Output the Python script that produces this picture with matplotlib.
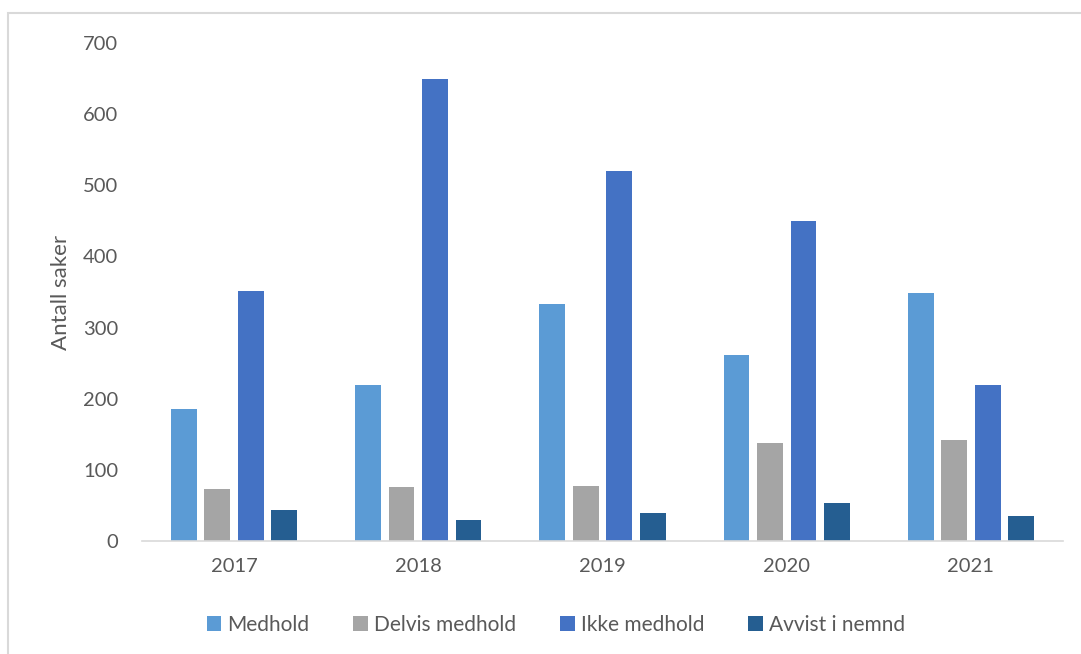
import numpy as np
import matplotlib.pyplot as plt
from matplotlib.patches import Rectangle

years = ['2017', '2018', '2019', '2020', '2021']
medhold = [186, 219, 333, 262, 349]
delvis_medhold = [73, 76, 78, 138, 142]
ikke_medhold = [352, 649, 520, 450, 219]
avvist_i_nemnd = [44, 29, 40, 54, 35]

series = [
    ('Medhold', medhold, '#5B9BD5'),
    ('Delvis medhold', delvis_medhold, '#A5A5A5'),
    ('Ikke medhold', ikke_medhold, '#4472C4'),
    ('Avvist i nemnd', avvist_i_nemnd, '#255E91'),
]

plt.rcParams['font.family'] = ['Lato', 'DejaVu Sans']
text_color = '#595959'

W, H = 1081, 654
fig = plt.figure(figsize=(W / 100, H / 100), dpi=100)
ax = fig.add_axes([142 / W, 1 - 541 / H, (1063 - 142) / W, (541 - 43) / H])

x = np.arange(len(years))
bar_w = 0.14
step = 0.182
for i, (name, vals, col) in enumerate(series):
    ax.bar(x + (i - 1.5) * step, vals, width=bar_w, color=col, label=name, zorder=2)

ax.set_xlim(-0.5, len(years) - 0.5)
ax.set_ylim(0, 700)
ax.set_yticks(range(0, 701, 100))
ax.set_xticks(x)
ax.set_xticklabels(years)
ax.tick_params(axis='both', length=0, labelsize=14.5, colors=text_color)
ax.tick_params(axis='y', pad=17)
ax.tick_params(axis='x', pad=12)

for s in ['top', 'right', 'left']:
    ax.spines[s].set_visible(False)
ax.spines['bottom'].set_color('#D9D9D9')
ax.spines['bottom'].set_linewidth(1.2)

ax.set_ylabel('Antall saker', fontsize=16, color=text_color, labelpad=9)

ax.legend(loc='center', bbox_to_anchor=(556 / W, 1 - 625 / H),
          bbox_transform=fig.transFigure, ncol=4, frameon=False,
          fontsize=15, labelcolor=text_color, handlelength=0.7,
          handleheight=0.7, handletextpad=0.3, columnspacing=2.1)

# chart area border (Excel-style)
fig.patches.append(Rectangle((8 / W, -0.1), 1.2, 1 - 13 / H + 0.1,
                             transform=fig.transFigure, fill=False,
                             edgecolor='#D9D9D9', linewidth=1.5))

fig.savefig('out.png', dpi=100)
